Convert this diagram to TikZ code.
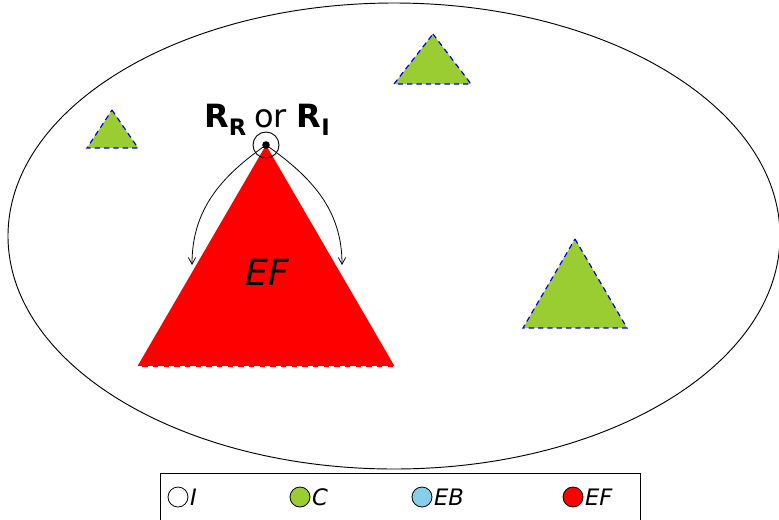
\documentclass[tikz,border=0pt]{standalone}
\usepackage{fontspec}
\setmainfont{DejaVu Sans}
\usetikzlibrary{arrows.meta}
\definecolor{cgreen}{RGB}{154,205,50}
\definecolor{cblue}{RGB}{135,206,235}
\definecolor{cred}{RGB}{255,0,0}
\tikzset{
  gtri/.style={fill=cgreen, draw=blue, dashed, line width=0.9pt, dash pattern=on 4pt off 3pt},
  legc/.style={circle, draw=black, line width=0.6pt, minimum size=15pt, inner sep=0pt},
  legt/.style={anchor=west, inner sep=1pt, font=\fontsize{17}{19}\selectfont\itshape},
  arc/.style={-{Straight Barb[length=5pt,width=5.5pt]}, line width=0.6pt}
}
\begin{document}
\begin{tikzpicture}[x=0.75pt,y=-0.75pt]
\useasboundingbox (0,0) rectangle (779,519);
% ellipse
\draw[line width=0.7pt] (394,236) ellipse [x radius=386, y radius=233];
% green triangles
\draw[gtri] (433,34) -- (471,84) -- (394,84) -- cycle;
\draw[gtri] (112,110) -- (138,148) -- (87,148) -- cycle;
\draw[gtri] (575,239) -- (627,328) -- (523,328) -- cycle;
% red triangle
\fill[cred] (266,145) -- (395,367) -- (137,367) -- cycle;
\draw[white, line width=1pt, dash pattern=on 4pt off 4pt] (137,367) -- (395,367);
\node[font=\fontsize{27}{30}\selectfont\itshape] (ef) at (267,272) {EF};
% apex
\coordinate (apex) at (266,145);
\node[circle, draw=black, line width=0.7pt, minimum size=19.5pt, inner sep=0pt] (ring) at (apex) {};
\fill[black] (apex) circle (3.8);
\coordinate (la) at (192,265);
\coordinate (ra) at (342,265);
\draw[arc] (apex) to[out=215, in=90] (la);
\draw[arc] (apex) to[out=-35, in=90] (ra);
% label
\node[anchor=base, inner sep=0pt] (lbl) at (267,127)
  {\fontsize{24}{28}\selectfont\textbf{R}\raisebox{-0.28em}{\fontsize{17}{20}\selectfont\textbf{R}}\hspace{0.25em}or\hspace{0.3em}\textbf{R}\raisebox{-0.28em}{\fontsize{17}{20}\selectfont\textbf{I}}};
% legend
\draw[line width=0.7pt] (160,473) rectangle (640,521);
\node[legc, fill=white] (l1) at (178,497) {};
\node[legt] (t1) at (l1.east) {I};
\node[legc, fill=cgreen] (l2) at (300,497) {};
\node[legt] (t2) at (l2.east) {C};
\node[legc, fill=cblue] (l3) at (422,497) {};
\node[legt] (t3) at (l3.east) {EB};
\node[legc, fill=cred] (l4) at (573,497) {};
\node[legt] (t4) at (l4.east) {EF};
\end{tikzpicture}
\end{document}
